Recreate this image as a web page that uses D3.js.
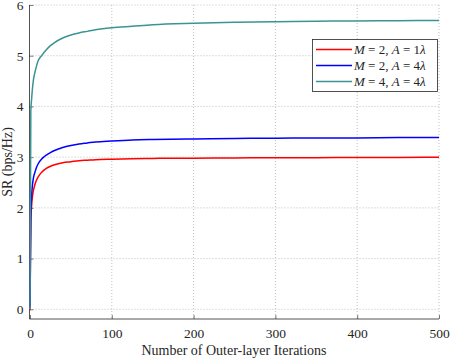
<!DOCTYPE html>
<html><head><meta charset="utf-8">
<script src="https://cdn.jsdelivr.net/npm/d3@7"></script>
<style>body{margin:0;background:#fff}svg{display:block}svg text{font-family:'Liberation Serif',serif !important;fill:#262626}</style>
</head><body><svg id="c" width="450" height="361"></svg>
<script>
const iterations = [0,1,2,3,4,5,6,8,10,13,16,20,25,30,40,50,60,70,80,100,125,150,200,250,300,350,400,450,500];
const srM2A1 = [-0.02,1.75,2.05,2.22,2.33,2.4,2.46,2.55,2.61,2.68,2.73,2.78,2.82,2.85,2.89,2.91,2.93,2.94,2.95,2.96,2.97,2.975,2.98,2.985,2.99,2.99,2.995,2.995,3.0];
const srM2A4 = [0.05,1.9,2.25,2.45,2.57,2.65,2.7,2.8,2.87,2.94,2.99,3.04,3.09,3.13,3.19,3.23,3.26,3.28,3.3,3.32,3.34,3.35,3.36,3.37,3.375,3.38,3.38,3.385,3.385];
const srM4A4 = [0,3.9,4.15,4.35,4.5,4.6,4.67,4.8,4.9,4.98,5.04,5.12,5.2,5.26,5.35,5.41,5.45,5.48,5.51,5.55,5.58,5.61,5.64,5.66,5.67,5.68,5.685,5.69,5.695];
const xTicks = [0,100,200,300,400,500];
const yTicks = [0,1,2,3,4,5,6];
const seriesNames = [["M"," = 2, ","A"," = 1","λ"],["M"," = 2, ","A"," = 4","λ"],["M"," = 4, ","A"," = 4","λ"]];
const seriesColors = ["#ff0000","#0000ff","#3a9494"];
const seriesData = [srM2A1, srM2A4, srM4A4];

const svg = d3.select("#c");
const L=29.5, R=439, T=5, B=319;
const x = d3.scaleLinear().domain([0,500]).range([30,439]);
const y = d3.scaleLinear().domain([0,6]).range([309.3,5]);

const g = svg.append("g");
g.selectAll(".gx").data(xTicks.slice(1)).enter().append("line")
 .attr("x1",d=>x(d)).attr("x2",d=>x(d)).attr("y1",T).attr("y2",B)
 .attr("stroke","#b0b0b0").attr("stroke-width",0.8).attr("stroke-dasharray","1,2");
g.selectAll(".gy").data(yTicks).enter().append("line")
 .attr("x1",L).attr("x2",R).attr("y1",d=>y(d)).attr("y2",d=>y(d))
 .attr("stroke","#b0b0b0").attr("stroke-width",0.8).attr("stroke-dasharray","1,2");

const xAxis = d3.axisBottom(x).tickValues(xTicks).tickFormat(d3.format("d")).tickSize(-4).tickPadding(9);
const yAxis = d3.axisLeft(y).tickValues(yTicks).tickFormat(d3.format("d")).tickSize(-4).tickPadding(6);
const gx = svg.append("g").attr("transform",`translate(0,${B})`).call(xAxis);
const gy = svg.append("g").attr("transform",`translate(${L},0)`).call(yAxis);
[gx,gy].forEach(a=>{
  a.attr("font-family",null).attr("font-size",null);
  a.select(".domain").remove();
  a.selectAll("line").attr("stroke","#262626").attr("stroke-width",0.6);
  a.selectAll("text").attr("fill","#262626").style("font-size","13.5px");
});
svg.append("line").attr("x1",L).attr("x2",R).attr("y1",B).attr("y2",B).attr("stroke","#262626").attr("stroke-width",0.8);
svg.append("line").attr("x1",L).attr("x2",L).attr("y1",T).attr("y2",B).attr("stroke","#262626").attr("stroke-width",0.8);

const line = d3.line().x((d,i)=>x(iterations[i])).y(d=>y(d)).curve(d3.curveMonotoneX);
seriesData.forEach((s,k)=>{
  svg.append("path").datum(s).attr("d",line).attr("fill","none")
   .attr("stroke",seriesColors[k]).attr("stroke-width",1.5);
});

svg.append("text").attr("x",234).attr("y",355).attr("text-anchor","middle")
 .style("font-size","14px").text("Number of Outer-layer Iterations");
svg.append("text").attr("transform","translate(12,162) rotate(-90)").attr("text-anchor","middle")
 .style("font-size","14px").text("SR (bps/Hz)");

const lg = svg.append("g");
lg.append("rect").attr("x",312.5).attr("y",39.5).attr("width",125).attr("height",52)
 .attr("fill","#fff").attr("stroke","#262626").attr("stroke-width",0.8);
seriesNames.forEach((parts,k)=>{
  const yy = 49.5 + k*16;
  lg.append("line").attr("x1",316).attr("x2",352).attr("y1",yy).attr("y2",yy)
   .attr("stroke",seriesColors[k]).attr("stroke-width",1.5);
  const t = lg.append("text").attr("x",354).attr("y",yy+4.5).style("font-size","13px");
  parts.forEach((p,j)=>{
    t.append("tspan").text(p).style("font-style",(j%2===0)?"italic":"normal");
  });
});
</script></body></html>
